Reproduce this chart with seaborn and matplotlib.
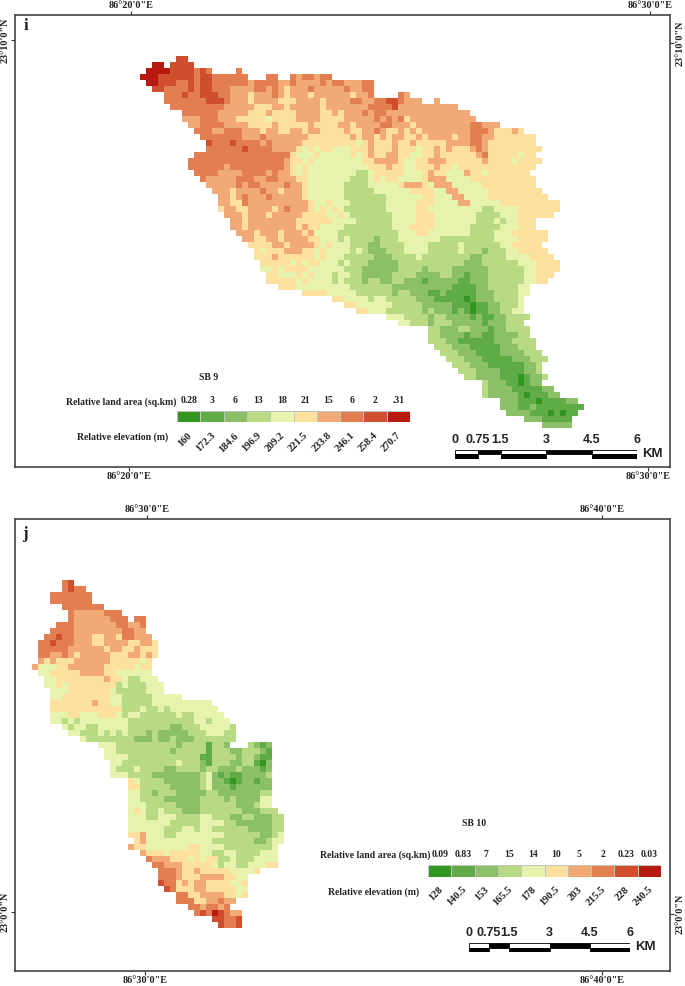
import numpy as np
import matplotlib
matplotlib.use("Agg")
import matplotlib.pyplot as plt
from matplotlib.colors import ListedColormap
import seaborn as sns

# ==========================================
# DATA
# ==========================================
W, H = 685, 986
class_colors = ["#339620", "#5fab45", "#8cc068", "#b9da85", "#e6f3ac",
                "#fde09e", "#f1aa75", "#e37e51", "#cf4e2d", "#b81a12"]

area_sb9 = ["0.28", "3", "6", "13", "18", "21", "15", "6", "2", ".31"]
elev_sb9 = ["160", "172.3", "184.6", "196.9", "209.2", "221.5", "233.8", "246.1", "258.4", "270.7"]
area_sb10 = ["0.09", "0.83", "7", "15", "14", "10", "5", "2", "0.23", "0.03"]
elev_sb10 = ["128", "140.5", "153", "165.5", "178", "190.5", "203", "215.5", "228", "240.5"]

scale_km = [0, 0.75, 1.5, 3, 4.5, 6]
scale_labels = ["0", "0.75", "1.5", "3", "4.5", "6"]

# elevation class per raster cell ('.' = outside the basin, blocks of 10 columns)
sb9_rows = [
    "......88..",
    "..99.8888.",
    ".999988887 87....7...",
    "9998888887 88777777.. .77..76776 77........",
    ".998887787 8877777767 7776676666 767766677.",
    "..88777787 8877766667 7676566676 666676677.",
    "....777877 8887766656 6676566656 666665667. ...76.....",
    "....777777 7888766656 6665556666 5666677667 7887666..6",
    ".....77777 7777666665 5566566666 5666666677 7786666666 666.......",
    ".......777 7776666655 5655556666 5565666767 7666666666 66666.....",
    ".......666 7776665555 5455556666 5555666667 6767566666 666666....",
    "........66 7777666655 5565555565 5556656666 7766656666 6666677666",
    ".........7 7766777666 5665566566 5555655667 6556565666 6666677765 5565......",
    "..........  7777777666 7666666655 5555565665 6566556566 6656677665 555555....",
    ".......... .877787777 6766666555 5555554565 5565565555 5666677655 555555....",
    ".......... .777777877 7766665454 5544455565 5565554556 5655567655 5555555...",
    ".........7 7777777777 7777754445 4444454565 5665544556 5555556755 555455....",
    "........77 7777777777 7777655454 4444444556 6665445566 6555555655 5545555...",
    "........77 7777677777 7777654544 4444444455 5655445556 5545555555 555555....",
    ".........7 7776666777 7676654544 4444443345 5555444565 5444655455 55555.....",
    ".......... 7666667776 6776665544 4444433345 4554444566 6444455555 555555....",
    ".......... .666667677 6666766544 4444333344 4445666546 6644444555 555555....",
    ".......... ..66656666 7665666544 4444333334 4444455554 4664444455 5555555...",
    ".......... ...6656766 6766666544 4444333333 3444444554 4466444455 55555555..",
    ".......... ...6655766 6666666654 4544433333 3444445554 4446644444 5555555555",
    ".......... ...5665566 6656766654 5454333333 3444445544 4444444334 4445555555",
    ".......... ....666566 6566666555 5445433333 3344445554 4444443333 444555555.",
    ".......... .....66566 6666665555 5544443333 3344445554 4444443334 344555....",
    ".......... .....66566 6666665655 4444333333 3344455554 4444433333 444555....",
    ".......... ......6665 6665666564 4443333333 3334445544 4444433334 44555555..",
    ".......... .......665 5665666655 4443433332 3334444444 3333333334 44455555..",
    ".......... ........55 5566566665 4544433322 3333444433 3334333333 4455555...",
    ".......... .........5 4555666554 5444434322 2333444433 3334333233 34455555..",
    ".......... .........5 5565555554 5444333332 2233334333 3333322333 344445555.",
    ".......... .......... 5555545455 4443433322 2223333333 3333222333 3334445555",
    ".......... .......... 4454555544 4444333222 2223333233 3322222233 3333445555",
    ".......... .......... .554445454 4434433222 2233332222 3322122233 333344555.",
    ".......... .......... .555554544 4434333233 2233222122 2221122233 33334455..",
    ".......... .......... ...5554444 4444433333 3322222222 2211112233 33344.....",
    ".......... .......... .......555 5444443333 3323322211 2111112223 33344.....",
    ".......... .......... .......... ..55444434 4333332221 1111012223 3334......",
    ".......... .......... .......... ....554444 4433333222 2211101122 3334......",
    ".......... .......... .......... ......5544 4333333232 2212101122 3344......",
    ".......... .......... .......... .......... .444333323 3222212112 23333.....",
    ".......... .......... .......... .......... ...4433323 3322222122 2333......",
    ".......... .......... .......... .......... ........33 2223322212 23333.....",
    ".......... .......... .......... .......... ........33 2222122112 22233.....",
    ".......... .......... .......... .......... ........33 3221111112 223333....",
    ".......... .......... .......... .......... .........3 3322211111 222333....",
    ".......... .......... .......... .......... .......... 3332221111 2222333...",
    ".......... .......... .......... .......... .......... .333222111 11222333..",
    ".......... .......... .......... .......... .......... ..33322211 1111223...",
    ".......... .......... .......... .......... .......... ...3332222 1111223...",
    ".......... .......... .......... .......... .......... ....332222 11101223..",
    ".......... .......... .......... .......... .......... .......322 2110122...",
    ".......... .......... .......... .......... .......... .......322 221111122.",
    ".......... .......... .......... .......... .......... .......322 2221011122",
    ".......... .......... .......... .......... .......... .......... 2221110111 122",
    ".......... .......... .......... .......... .......... .......... 2221121111 1111",
    ".......... .......... .......... .......... .......... .......... .222211101 011",
    ".......... .......... .......... .......... .......... .......... ....222111 11",
    ".......... .......... .......... .......... .......... .......... .......222 22",
]
sb9_x0, sb9_y0, sb9_cols = 140, 56, 75

sb10_rows = [
    ".....78...",
    ".....7877.",
    "...7777777",
    "...7777777",
    ".....77777 77",
    "......7666 66777.....",
    "......7666 666777.77.",
    "....777666 666677667.",
    "...7777666 666667766.",
    "..77877666 5566577666",
    ".778777666 5566665566 5",
    ".777776666 6656655655 5",
    ".776676566 6665556656 5",
    ".656555666 6665555545",
    "6444556666 6655555455",
    ".445555566 6655444444",
    "..44555555 5565543344 4",
    "..44545555 5555343334 44",
    "...4445555 5554333334 44",
    "...4455555 5554433333 44444",
    "...5555555 6554433333 4444444444",
    "...5555555 5555533343 3434444444 4",
    "...4445544 4555434433 3333433444 44",
    "...4434344 4444443333 3333333443 444",
    ".....43443 3444443333 3332233344 4443",
    "......4433 3434343332 3222223334 4433",
    "........43 3333333222 3223222333 3333",
    ".......... .444333333 3333233331 332...3212",
    ".......... ..44333333 3332333331 3332233321",
    ".......... ..44443333 3333333311 3333233211",
    ".......... ...4433333 3333433321 3332233102",
    ".......... ...4333433 3322333323 3222322212",
    ".......... ...4443333 2222222234 2121122223",
    ".......... ......5433 3322222234 2210122122",
    ".......... ......5533 3332222234 2221222222",
    ".......... ......4433 2333222223 3222222233",
    ".......... ......4433 3322222233 3323222244",
    ".......... ......4443 3333222233 3333222344",
    ".......... ......4543 3433322233 3333322233 3",
    ".......... ......4443 3444333344 3332233222 33",
    ".......... ......4444 4443333344 4433222222 33",
    ".......... ......4444 4433344344 3333332222 33",
    ".......... ......5564 4433444444 4433333322 34",
    ".......... .......564 4444444444 3333333223 44",
    ".......... ......6554 4444445544 4433333333 4",
    ".......... ........65 5545555544 3344333344 4",
    ".......... .........7 6665554545 5334333444 4",
    ".......... .......... 7766655555 4344334445 5",
    ".......... .......... .777655655 55544445..",
    ".......... .......... .777655566 665544....",
    ".......... .......... .877565665 555445....",
    ".......... .......... ..87555665 555544....",
    ".......... .......... ....775566 665545....",
    ".......... .......... ....777556 6766......",
    ".......... .......... ......7767 767.......",
    ".......... .......... .......787 98766.....",
    ".......... .......... .......... 88778.....",
    ".......... .......... .......... .8778.....",
]
sb10_x0, sb10_y0, sb10_cols = 32, 580, 43
cell = 6

# ==========================================
# HELPERS
# ==========================================
sns.set_theme(style="white")
plt.rcParams["font.family"] = ["Liberation Serif", "DejaVu Serif"]
fig = plt.figure(figsize=(W / 100, H / 100), dpi=100, facecolor="white")
cmap = ListedColormap(class_colors)


def px_axes(x0, y0, x1, y1, **kw):
    return fig.add_axes([x0 / W, 1 - y1 / H, (x1 - x0) / W, (y1 - y0) / H], **kw)


def put(x, y, s, size=7.5, weight="bold", ha="center", va="center", **kw):
    fig.text(x / W, 1 - y / H, s, fontsize=size, fontweight=weight, ha=ha, va=va, color="#222222", **kw)


def panel(box, bx, tx, ly, ry, bottom_lab, top_lab, lat_left, lat_right, letter, letter_xy):
    ax = px_axes(*box)
    ax.set_xlim(box[0], box[2])
    ax.set_ylim(box[3], box[1])
    for s in ax.spines.values():
        s.set_visible(True)
        s.set_color("#444444")
        s.set_linewidth(1.2)
    tick_kw = dict(length=3, width=0.8, color="#333333", labelsize=7.3, labelcolor="#222222", pad=0.8)
    ax.set_xticks([bx[0], bx[1]], bottom_lab, fontweight="bold")
    ax.set_yticks([ly], [lat_left], rotation=90, va="center", fontweight="bold")
    ax.tick_params(axis="both", bottom=True, left=True, **tick_kw)
    top = ax.secondary_xaxis("top")
    top.set_xticks([tx[0], tx[1]], top_lab, fontweight="bold")
    top.tick_params(**tick_kw)
    right = ax.secondary_yaxis("right")
    right.set_yticks([ry], [lat_right], rotation=90, va="center", fontweight="bold")
    right.tick_params(**tick_kw)
    for sec in (top, right):
        sec.spines[:].set_visible(False)
    put(letter_xy[0], letter_xy[1], letter, size=12)
    return ax


def raster(rows, x0, y0, ncols):
    grid = np.full((len(rows), ncols), np.nan)
    for i, row in enumerate(rows):
        for j, ch in enumerate(row.replace(" ", "")):
            if ch != "." and j < ncols:
                grid[i, j] = int(ch)
    ax = px_axes(x0, y0, x0 + ncols * cell, y0 + len(rows) * cell)
    sns.heatmap(grid, ax=ax, cmap=cmap, vmin=-0.5, vmax=9.5, cbar=False,
                xticklabels=False, yticklabels=False)
    ax.patch.set_visible(False)


def legend(box, areas, elevs, title, title_xy, area_x, elev_x, area_y, elev_y, elev_top):
    ax = px_axes(*box)
    sns.heatmap(np.arange(10).reshape(1, 10), ax=ax, cmap=cmap, vmin=-0.5, vmax=9.5, cbar=False,
                linewidths=0.5, linecolor="#c4c4c4", xticklabels=areas, yticklabels=False)
    ax.xaxis.tick_top()
    ax.tick_params(axis="x", length=0, pad=4, labelsize=7, labelrotation=0)
    for lab in ax.get_xticklabels():
        lab.set_fontweight("bold")
        lab.set_color("#222222")
    step = (box[2] - box[0]) / 10
    for i, e in enumerate(elevs):
        put(box[0] + step * i + 10, elev_top, e, size=7.5, ha="right", va="top",
            rotation=45, rotation_mode="anchor")
    put(title_xy[0], title_xy[1], title, size=7)
    put(area_x, area_y, "Relative land area (sq.km)", size=7, ha="left")
    put(elev_x, elev_y, "Relative elevation (m)", size=7, ha="left")


def scalebar(box, label_y, km_x, km_y):
    ax = px_axes(*box)
    widths = np.diff(scale_km)
    top_cols = ["white", "black", "white", "black", "white"]
    bot_cols = ["black", "white", "black", "white", "black"]
    ax.barh(1, widths, left=scale_km[:-1], height=1, color=top_cols, edgecolor="black", linewidth=0.6)
    ax.barh(0, widths, left=scale_km[:-1], height=1, color=bot_cols, edgecolor="black", linewidth=0.6)
    ax.set_xlim(0, 6)
    ax.set_ylim(-0.5, 1.5)
    ax.axis("off")
    for km, lab in zip(scale_km, scale_labels):
        x = box[0] + (box[2] - box[0]) * km / 6
        put(x, label_y, lab, size=9, family="Liberation Sans")
    put(km_x, km_y, "KM", size=9.5, ha="left", family="Liberation Sans")


# ==========================================
# PANEL i - SB 9
# ==========================================
panel((15, 15, 670, 467), (129, 648), (131, 650), 40, 43,
      ["86°20'0\"E", "86°30'0\"E"], ["86°20'0\"E", "86°30'0\"E"],
      "23°10'0\"N", "23°10'0\"N", "i", (26, 26))
raster(sb9_rows, sb9_x0, sb9_y0, sb9_cols)
legend((177, 411, 410, 422), area_sb9, elev_sb9, "SB 9", (209, 377), 66, 77, 402, 437, 431)
scalebar((455, 450, 637, 459), 440, 642, 454)

# ==========================================
# PANEL j - SB 10
# ==========================================
panel((15, 519, 670, 971), (145, 602), (147, 602), 912, 914,
      ["86°30'0\"E", "86°40'0\"E"], ["86°30'0\"E", "86°40'0\"E"],
      "23°0'0\"N", "23°0'0\"N", "j", (25, 534))
raster(sb10_rows, sb10_x0, sb10_y0, sb10_cols)
legend((428, 865, 661, 877), area_sb10, elev_sb10, "SB 10", (474, 824), 320, 328, 855, 892, 885)
scalebar((469, 943, 630, 952), 933, 635, 947)

fig.savefig("out.png", dpi=100, facecolor="white")
